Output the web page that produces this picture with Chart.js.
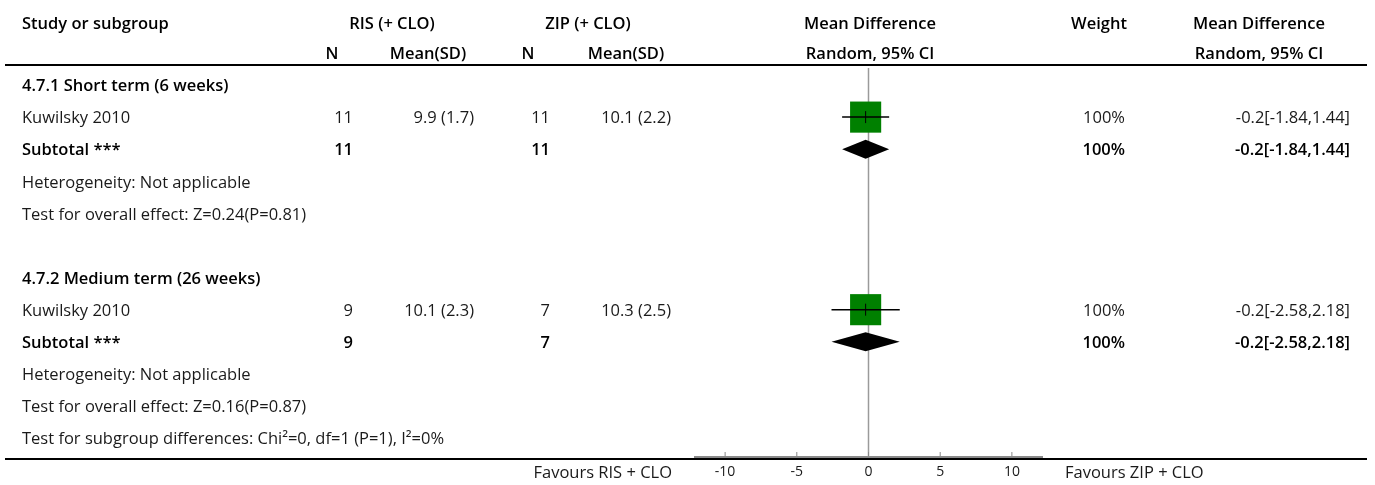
<!DOCTYPE html>
<html>
<head>
<meta charset="utf-8">
<script src="https://cdn.jsdelivr.net/npm/chart.js@4"></script>
<style>
  html, body { margin: 0; padding: 0; background: #fff; }
  #wrap { width: 1375px; height: 485px; }
</style>
</head>
<body>
<div id="wrap"><canvas id="forest"></canvas></div>
<script>
// Row labels of the table (row 5 is an empty spacer)
const rowLabels = [
    '4.7.1 Short term (6 weeks)',
    'Kuwilsky 2010',
    'Subtotal ***',
    'Heterogeneity: Not applicable',
    'Test for overall effect: Z=0.24(P=0.81)',
    '',
    '4.7.2 Medium term (26 weeks)',
    'Kuwilsky 2010',
    'Subtotal ***',
    'Heterogeneity: Not applicable',
    'Test for overall effect: Z=0.16(P=0.87)',
    'Test for subgroup differences: Chi²=0, df=1 (P=1), I²=0%'
];
const boldRows = [0, 2, 6, 8];

// Individual studies
const studyRows = [1, 7];
const studyRisN = [11, 9];
const studyRisMean = ['9.9 (1.7)', '10.1 (2.3)'];
const studyZipN = [11, 7];
const studyZipMean = ['10.1 (2.2)', '10.3 (2.5)'];
const studyMD = [-0.2, -0.2];
const studyLow = [-1.84, -2.58];
const studyHigh = [1.44, 2.18];
const studyWeight = [100, 100];

// Subtotals
const totalRows = [2, 8];
const totalRisN = [11, 9];
const totalZipN = [11, 7];
const totalMD = [-0.2, -0.2];
const totalLow = [-1.84, -2.58];
const totalHigh = [1.44, 2.18];
const totalWeight = [100, 100];

// Axis
const xTicks = [-10, -5, 0, 5, 10];
const xMin = -12.1;
const xMax = 12.1;
const favoursLeft = 'Favours RIS + CLO';
const favoursRight = 'Favours ZIP + CLO';

const FONT = '"Open Sans", sans-serif';
const SIZE = 16.5;

function txt(ctx, s, x, y, align, bold, size) {
    ctx.font = (bold ? '600 ' : '') + (size || SIZE) + 'px ' + FONT;
    ctx.textAlign = align;
    ctx.textBaseline = 'middle';
    ctx.fillText(s, x, y + 1.5);
}

function ciText(md, lo, hi) {
    return md + '[' + lo + ',' + hi + ']';
}

const forestPlugin = {
    id: 'forest',
    beforeDatasetsDraw(chart) {
        const { ctx, chartArea, scales: { x } } = chart;
        ctx.save();
        // line of no effect
        const x0 = x.getPixelForValue(0);
        ctx.strokeStyle = '#9a9a9a';
        ctx.lineWidth = 1.5;
        ctx.beginPath();
        ctx.moveTo(x0, chartArea.top);
        ctx.lineTo(x0, chartArea.bottom);
        ctx.stroke();
        // tick marks pointing up
        ctx.strokeStyle = '#888';
        ctx.lineWidth = 1;
        x.ticks.forEach(t => {
            const px = x.getPixelForValue(t.value);
            ctx.beginPath();
            ctx.moveTo(px, chartArea.bottom);
            ctx.lineTo(px, chartArea.bottom - 5);
            ctx.stroke();
        });
        ctx.restore();
    },
    afterDatasetsDraw(chart) {
        const { ctx, scales: { x, y } } = chart;
        ctx.save();
        // confidence intervals of studies
        ctx.strokeStyle = '#000';
        studyRows.forEach((r, i) => {
            const py = y.getPixelForValue(r);
            ctx.lineWidth = 1.5;
            ctx.beginPath();
            ctx.moveTo(x.getPixelForValue(studyLow[i]), py);
            ctx.lineTo(x.getPixelForValue(studyHigh[i]), py);
            ctx.stroke();
            const pm = x.getPixelForValue(studyMD[i]);
            ctx.lineWidth = 1;
            ctx.beginPath();
            ctx.moveTo(pm, py - 6);
            ctx.lineTo(pm, py + 6);
            ctx.stroke();
        });
        // pooled diamonds
        ctx.fillStyle = '#000';
        totalRows.forEach((r, i) => {
            const py = y.getPixelForValue(r);
            const pm = x.getPixelForValue(totalMD[i]);
            ctx.beginPath();
            ctx.moveTo(x.getPixelForValue(totalLow[i]), py);
            ctx.lineTo(pm, py - 9.5);
            ctx.lineTo(x.getPixelForValue(totalHigh[i]), py);
            ctx.lineTo(pm, py + 9.5);
            ctx.closePath();
            ctx.fill();
        });
        ctx.restore();
    },
    afterDraw(chart) {
        const { ctx, chartArea, scales: { y } } = chart;
        ctx.save();
        ctx.fillStyle = '#000';
        // headers
        const h1 = 23, h2 = 53;
        txt(ctx, 'Study or subgroup', 22, h1, 'left', true);
        txt(ctx, 'RIS (+ CLO)', 392, h1, 'center', true);
        txt(ctx, 'ZIP (+ CLO)', 588, h1, 'center', true);
        txt(ctx, 'Mean Difference', 870, h1, 'center', true);
        txt(ctx, 'Weight', 1099, h1, 'center', true);
        txt(ctx, 'Mean Difference', 1259, h1, 'center', true);
        txt(ctx, 'N', 332, h2, 'center', true);
        txt(ctx, 'Mean(SD)', 428, h2, 'center', true);
        txt(ctx, 'N', 528, h2, 'center', true);
        txt(ctx, 'Mean(SD)', 626, h2, 'center', true);
        txt(ctx, 'Random, 95% CI', 870, h2, 'center', true);
        txt(ctx, 'Random, 95% CI', 1259, h2, 'center', true);

        // row labels
        rowLabels.forEach((s, r) => {
            if (!s) return;
            const bold = boldRows.includes(r);
            ctx.fillStyle = bold ? '#000' : '#1a1a1a';
            txt(ctx, s, 22, y.getPixelForValue(r), 'left', bold);
        });

        // study values
        ctx.fillStyle = '#1a1a1a';
        studyRows.forEach((r, i) => {
            const py = y.getPixelForValue(r);
            txt(ctx, String(studyRisN[i]), 353, py, 'right', false);
            txt(ctx, studyRisMean[i], 474, py, 'right', false);
            txt(ctx, String(studyZipN[i]), 550, py, 'right', false);
            txt(ctx, studyZipMean[i], 671, py, 'right', false);
            txt(ctx, studyWeight[i] + '%', 1125, py, 'right', false);
            txt(ctx, ciText(studyMD[i], studyLow[i], studyHigh[i]), 1350, py, 'right', false);
        });
        // subtotal values
        ctx.fillStyle = '#000';
        totalRows.forEach((r, i) => {
            const py = y.getPixelForValue(r);
            txt(ctx, String(totalRisN[i]), 353, py, 'right', true);
            txt(ctx, String(totalZipN[i]), 550, py, 'right', true);
            txt(ctx, totalWeight[i] + '%', 1125, py, 'right', true);
            txt(ctx, ciText(totalMD[i], totalLow[i], totalHigh[i]), 1350, py, 'right', true);
        });

        // rules
        ctx.strokeStyle = '#000';
        ctx.lineWidth = 2;
        ctx.beginPath();
        ctx.moveTo(5, 65);
        ctx.lineTo(1367, 65);
        ctx.moveTo(5, chartArea.bottom + 2);
        ctx.lineTo(1367, chartArea.bottom + 2);
        ctx.stroke();

        // favours labels
        ctx.fillStyle = '#1a1a1a';
        txt(ctx, favoursLeft, 672, 472, 'right', false);
        txt(ctx, favoursRight, 1065, 472, 'left', false);
        ctx.restore();
    }
};

const ctx = document.getElementById('forest').getContext('2d');
const forestChart = new Chart(ctx, {
    type: 'scatter',
    data: {
        datasets: [{
            label: 'Studies',
            data: studyMD.map((v, i) => ({ x: v, y: studyRows[i] })),
            pointStyle: 'rect',
            pointRadius: studyWeight.map(w => 22 * Math.sqrt(w / 100)),
            backgroundColor: '#008000',
            borderWidth: 0
        }]
    },
    options: {
        responsive: true,
        maintainAspectRatio: false,
        animation: false,
        events: [],
        layout: { padding: { left: 695, right: 333, top: 68, bottom: 0 } },
        plugins: { legend: { display: false }, tooltip: { enabled: false } },
        scales: {
            x: {
                type: 'linear',
                min: xMin,
                max: xMax,
                afterBuildTicks: s => { s.ticks = xTicks.map(v => ({ value: v })); },
                afterFit: s => { s.height = 28; },
                grid: { display: false, drawTicks: false },
                border: { display: true, color: '#8a8a8a', width: 2 },
                ticks: { padding: 7, color: '#1a1a1a', font: { family: FONT, size: 14 } }
            },
            y: {
                display: false,
                reverse: true,
                min: -0.53,
                max: 11.59
            }
        }
    },
    plugins: [forestPlugin]
});
</script>
</body>
</html>
